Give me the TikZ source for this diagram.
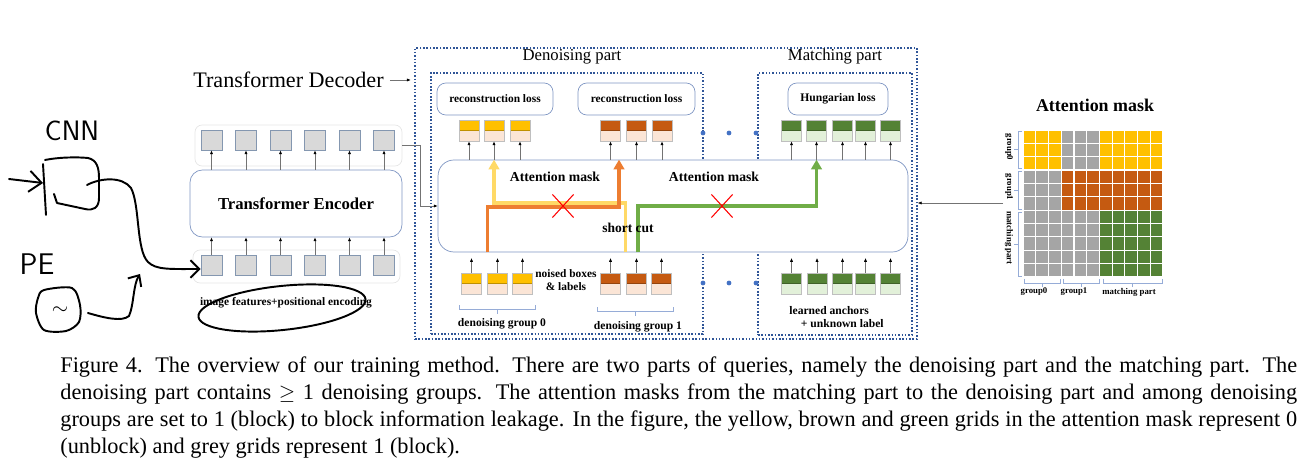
\documentclass[tikz,border=0pt]{standalone}
\usepackage{fontspec}
\setmainfont{Liberation Serif}
\usetikzlibrary{arrows.meta, positioning, shapes.misc}
\definecolor{dqYel}{HTML}{FFC000}
\definecolor{dqBrn}{HTML}{C55A11}
\definecolor{dqGrn}{HTML}{548235}
\definecolor{dqPink}{HTML}{FBE5D6}
\definecolor{dqLGrn}{HTML}{E2F0D9}
\definecolor{dqGry}{HTML}{A5A5A5}
\definecolor{tkGrey}{HTML}{D9D9D9}
\definecolor{tkBord}{RGB}{132,151,176}
\definecolor{bxBord}{RGB}{127,150,195}
\definecolor{dotBlue}{RGB}{47,85,151}
\definecolor{dotDot}{HTML}{4472C4}
\definecolor{brkBlue}{RGB}{150,172,215}
\definecolor{fY}{HTML}{FFD966}
\definecolor{fO}{HTML}{ED7D31}
\definecolor{fG}{HTML}{70AD47}
\newcommand{\fsz}[1]{\fontsize{#1}{#1}\selectfont}

\begin{document}
\begin{tikzpicture}[x=0.02cm, y=-0.02cm, >=Stealth,
    enctok/.style={draw=tkBord, fill=tkGrey, minimum width=0.42cm, minimum height=0.4cm, inner sep=0},
    qtok/.style 2 args={draw=black!25, fill=#2, minimum width=0.4cm, minimum height=0.42cm, inner sep=0,
      path picture={\fill[#1] (path picture bounding box.north west) rectangle (path picture bounding box.east);
        \draw[#1!75!black, line width=0.5pt] (path picture bounding box.north west) rectangle (path picture bounding box.east);}},
    box/.style={draw=bxBord, fill=white, rounded corners=5pt, inner sep=0},
    rowbg/.style={draw=black!10, rounded corners=4pt, inner sep=0},
    dotbox/.style={draw=dotBlue, densely dotted, line width=0.9pt, inner sep=0},
    tarr/.style={draw=black!55, line width=0.35pt, -{Latex[length=2.2pt,width=1.8pt,color=black]}},
    flow/.style={line width=2.2pt, -{Triangle[length=5.5pt,width=6pt]}},
    hand/.style={black, line width=1.1pt, line cap=round, line join=round},
    brk/.style={draw=brkBlue, line width=0.45pt},
    xmark/.style={cross out, draw=red, line width=0.6pt, minimum width=0.4cm, minimum height=0.44cm, inner sep=0}]
  \useasboundingbox (0,0) rectangle (1307,469);

  % encoder side
  \node[rowbg, minimum width=4.14cm, minimum height=0.82cm] (etrow) at (298.5,145.5) {};
  \node[rowbg, minimum width=4.14cm, minimum height=0.66cm] (ebrow) at (296.5,266.5) {};
  \node[box, rounded corners=7pt, minimum width=4.24cm, minimum height=1.34cm, font=\fsz{9.5}\bfseries] (enc) at (296,203.5) {Transformer Encoder};
  \foreach \x [count=\n] in {211.5,246,280.5,315,349.5,384}{
    \node[enctok] (et\n) at (\x,140) {};
    \node[enctok] (eb\n) at (\x,265) {};
    \draw[tarr] (et\n.south |- enc.north) -- (et\n.south);
    \draw[tarr] (eb\n.north) -- (eb\n.north |- enc.south);
  }
  \node[font=\fsz{6.5}\bfseries] (feat) at (286,303) {image features+positional encoding};
  \node[font=\fsz{12.6}] (tdlab) at (288.5,80) {Transformer Decoder};

  % decoder frames
  \node[dotbox, minimum width=10.04cm, minimum height=5.82cm] (dbox) at (666,193.5) {};
  \node[dotbox, minimum width=5.44cm, minimum height=5.22cm] (dnbox) at (567,203.5) {};
  \node[dotbox, minimum width=3.08cm, minimum height=5.24cm] (mtbox) at (835,204) {};
  \node[font=\fsz{9.5}] (dnlab) at (572,57) {Denoising part};
  \node[font=\fsz{9.5}] (mtlab) at (835,57) {Matching part};
  \draw[tarr, shorten >=2pt] (tdlab.east) -- (tdlab.east -| dbox.west);

  \node[box, rounded corners=9pt, minimum width=9.4cm, minimum height=1.84cm] (dec) at (673,206) {};
  \draw[tarr] (etrow.east) -- ++(18,0) |- (dec.west);

  \node[box, minimum width=2.32cm, minimum height=0.64cm, font=\fsz{6.5}\bfseries] (rl0) at (495,99) {reconstruction loss};
  \node[box, minimum width=2.34cm, minimum height=0.64cm, font=\fsz{6.5}\bfseries] (rl1) at (636.5,99) {reconstruction loss};
  \node[box, minimum width=2.0cm, minimum height=0.64cm, font=\fsz{6.6}\bfseries] (hl) at (838,99) {Hungarian loss};

  % query tokens
  \foreach \x [count=\n] in {469,494,520}{
    \node[qtok={dqYel}{dqPink}] (yt\n) at (\x,130.5) {};
    \draw[tarr] (yt\n.south |- dec.north) -- (yt\n.south);
  }
  \foreach \x [count=\n] in {610.5,636.5,662}{
    \node[qtok={dqBrn}{dqPink}] (bt\n) at (\x,130.5) {};
    \draw[tarr] (bt\n.south |- dec.north) -- (bt\n.south);
  }
  \foreach \x [count=\n] in {791.5,816.5,842.5,865.5,890.5}{
    \node[qtok={dqGrn}{dqLGrn}] (gt\n) at (\x,130.5) {};
    \draw[tarr] (gt\n.south |- dec.north) -- (gt\n.south);
  }
  \foreach \x [count=\n] in {471.5,497.5,522.5}{
    \node[qtok={dqYel}{dqPink}] (yb\n) at (\x,283.5) {};
    \draw[tarr, shorten >=3.2pt] (yb\n.north) -- (yb\n.north |- dec.south);
  }
  \foreach \x [count=\n] in {610.5,636.5,661.5}{
    \node[qtok={dqBrn}{dqPink}] (bb\n) at (\x,283.5) {};
    \draw[tarr, shorten >=3.2pt] (bb\n.north) -- (bb\n.north |- dec.south);
  }
  \foreach \x [count=\n] in {791.5,817,842.5,865.5,890.5}{
    \node[qtok={dqGrn}{dqLGrn}] (gb\n) at (\x,283.5) {};
    \draw[tarr, shorten >=3.2pt] (gb\n.north) -- (gb\n.north |- dec.south);
  }
  \foreach \x in {703,729,756}{
    \fill[dotDot] (\x,133) circle (2.4);
    \fill[dotDot] (\x,283) circle (2.4);
  }

  % attention paths
  \draw[flow, fY] ([xshift=0.3cm]bb1.north |- dec.south) |- ([yshift=0.06cm]dec.center -| yt2) -- (yt2.south |- dec.north);
  \draw[flow, fO] ([xshift=-0.2cm]yb2.north |- dec.south) |- ([xshift=0.17cm,yshift=-0.02cm]dec.center -| bt1) -- ([xshift=0.17cm]bt1.south |- dec.north);
  \draw[flow, fG] ([xshift=0.03cm]bb2.north |- dec.south) |- (dec.center -| gt2) -- (gt2.south |- dec.north);
  \node[xmark] (x0) at (563,206) {};
  \node[xmark] (x1) at (722,206) {};
  \node[font=\fsz{7.8}\bfseries] (am0) at (555,177) {Attention mask};
  \node[font=\fsz{7.8}\bfseries] (am1) at (714,177) {Attention mask};
  \node[font=\fsz{7.7}\bfseries] (sc) at (628,228) {short cut};

  \node[font=\fontsize{6.5}{7.4}\selectfont\bfseries, align=center] (nbl) at (566,280) {noised boxes\\\& labels};
  \draw[brk] (459,305) -- (459,309) -- (535,309) -- (535,305) (497,309) -- (497,314);
  \draw[brk] (597,307) -- (597,311) -- (673,311) -- (673,307) (635,311) -- (635,316);
  \node[font=\fsz{6.6}\bfseries] (dg0) at (502,324) {denoising group 0};
  \node[font=\fsz{6.6}\bfseries] (dg1) at (638,327) {denoising group 1};
  \node[font=\fontsize{6.6}{7.9}\selectfont\bfseries, align=left] (anc) at (836.5,317) {learned anchors\\\hspace*{1em}+ unknown label};

  % attention mask grid
  \node[font=\fsz{10.2}\bfseries] (amt) at (1095,105) {Attention mask};
  \foreach \r in {0,...,10}{
    \foreach \c in {0,...,10}{
      \ifnum\r<3
        \ifnum\c<3 \def\cc{dqYel}\else\ifnum\c<6 \def\cc{dqGry}\else\def\cc{dqYel}\fi\fi
      \else
        \ifnum\r<6
          \ifnum\c<3 \def\cc{dqGry}\else\def\cc{dqBrn}\fi
        \else
          \ifnum\c<6 \def\cc{dqGry}\else\def\cc{dqGrn}\fi
        \fi
      \fi
      \filldraw[fill=\cc, draw=white, line width=0.7pt] (1023+12.73*\c,130+13.36*\r) rectangle ++(12.73,13.36);
    }
  }
  \draw[brk] (1022,131) -- (1018,131) -- (1018,168) -- (1022,168) (1018,149.5) -- (1014,149.5);
  \draw[brk] (1022,171) -- (1018,171) -- (1018,209) -- (1022,209) (1018,190) -- (1014,190);
  \draw[brk] (1022,212) -- (1018,212) -- (1018,276) -- (1022,276) (1018,244) -- (1014,244);
  \draw[brk] (1024,279) -- (1024,283) -- (1060,283) -- (1060,279) (1042,283) -- (1042,287);
  \draw[brk] (1063,279) -- (1063,283) -- (1099,283) -- (1099,279) (1081,283) -- (1081,287);
  \draw[brk] (1103,279) -- (1103,283) -- (1162,283) -- (1162,279) (1132.5,283) -- (1132.5,287);
  \node[rotate=-90, font=\fsz{5}\bfseries] (lg0) at (1009,147) {group0};
  \node[rotate=-90, font=\fsz{5}\bfseries] (lg1) at (1009,187) {group1};
  \node[rotate=-90, font=\fsz{5}\bfseries] (lgm) at (1009,238) {matching part};
  \node[font=\fsz{5}\bfseries] (bg0) at (1034,292) {group0};
  \node[font=\fsz{5}\bfseries] (bg1) at (1074,292) {group1};
  \node[font=\fsz{5}\bfseries] (bgm) at (1129,292) {matching part};
  \coordinate (mkout) at (1003,203);
  \draw[tarr] (mkout) -- (mkout -| dbox.east);

  % handwritten notes
  \node[font=\sffamily\fsz{16}] (cnn) at (72,131) {CNN};
  \node[font=\sffamily\fsz{17}] (pe) at (37,264) {PE};
  \draw[hand] (45,160) .. controls (60,157) and (78,157) .. (88,158) .. controls (97,160) and (99,168) .. (99,178) -- (99,198) .. controls (99,208) and (93,211) .. (85,209) -- (57,203) -- (54,194);
  \draw[hand] (43,164) -- (46,215);
  \coordinate (cnnin) at (9,179);
  \draw[hand, -{Straight Barb[length=7pt,width=12pt]}] (cnnin) -- (43,183);
  \draw[hand, -{Straight Barb[length=5pt,width=10pt]}] (87,185) .. controls (100,178) and (122,176) .. (131,188) .. controls (140,205) and (136,250) .. (148,262) .. controls (156,270) and (170,269) .. ([yshift=-0.08cm]eb1.west);
  \draw[hand] plot[smooth cycle] coordinates {(44,290) (72,288) (80,305) (79,322) (66,331) (44,330) (36,313) (38,298)};
  \node[font=\fsz{13}] (tilde) at (60,311) {$\sim$};
  \coordinate (pejoin) at (140,274);
  \draw[hand, -{Straight Barb[length=5pt,width=9pt]}] (88,313) .. controls (105,318) and (122,322) .. (129,316) .. controls (134,305) and (133,285) .. (pejoin);
  \draw[hand, rotate around={6:(282,308)}] (282,308) ellipse [x radius=84, y radius=22];

  % caption
  \node[anchor=base west, text width=24.74cm, align=justify, inner sep=0, font=\fontsize{12.7}{15.5}\selectfont] (cap) at (60,372) {Figure 4. The overview of our training method. There are two parts of queries, namely the denoising part and the matching part. The\linebreak denoising part contains $\geq$ 1 denoising groups. The attention masks from the matching part to the denoising part and among denoising\linebreak groups are set to 1 (block) to block information leakage. In the figure, the yellow, brown and green grids in the attention mask represent 0\linebreak (unblock) and grey grids represent 1 (block).};
\end{tikzpicture}
\end{document}
